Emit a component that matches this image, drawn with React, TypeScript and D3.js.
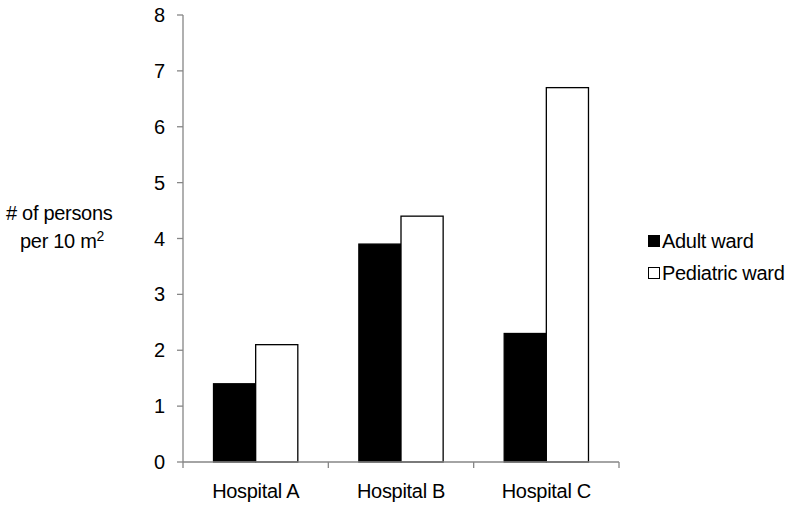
import React from "react";
import * as d3 from "d3";

const categories = ["Hospital A", "Hospital B", "Hospital C"];
const seriesNames = ["Adult ward", "Pediatric ward"];
const adultValues = [1.4, 3.9, 2.3];
const pediatricValues = [2.1, 4.4, 6.7];
const yTicks = [0, 1, 2, 3, 4, 5, 6, 7, 8];

export default function App() {
  const W = 798, H = 509;
  const x0 = 183, x1 = 619, yTop = 15, yBot = 462;
  const x = d3.scaleBand<string>().domain(categories).range([x0, x1]).paddingInner(0).paddingOuter(0);
  const y = d3.scaleLinear().domain([0, 8]).range([yBot, yTop]);
  const barW = x.bandwidth() * 0.29;
  const fills = ["#000000", "#ffffff"];
  const series = [adultValues, pediatricValues];
  const font = "'Liberation Sans', Arial, sans-serif";
  const axisColor = "#868686";
  return (
    <svg width={W} height={H} style={{ position: "absolute", left: 0, top: 0, background: "#fff" }}>
      {categories.map((c, i) => {
        const cx = (x(c) as number) + x.bandwidth() / 2;
        return series.map((vals, s) => (
          <rect
            key={c + s}
            x={cx - barW + s * barW}
            y={y(vals[i])}
            width={barW}
            height={y(0) - y(vals[i])}
            fill={fills[s]}
            stroke="#000"
            strokeWidth={1.3}
          />
        ));
      })}
      <line x1={x0} x2={x0} y1={yTop} y2={yBot} stroke={axisColor} strokeWidth={1.3} />
      <line x1={x0} x2={x1} y1={yBot} y2={yBot} stroke={axisColor} strokeWidth={1.3} />
      {yTicks.map((t) => (
        <g key={t}>
          <line x1={x0 - 6} x2={x0} y1={y(t)} y2={y(t)} stroke={axisColor} strokeWidth={1.3} />
          <text x={165} y={y(t)} dy="0.35em" textAnchor="end" fontFamily={font} fontSize={20} fill="#000">
            {t}
          </text>
        </g>
      ))}
      {[...categories.map((c) => x(c) as number), x1].map((px, i) => (
        <line key={i} x1={px} x2={px} y1={yBot} y2={yBot + 6} stroke={axisColor} strokeWidth={1.3} />
      ))}
      {categories.map((c) => (
        <text
          key={c}
          x={(x(c) as number) + x.bandwidth() / 2}
          y={498}
          textAnchor="middle"
          fontFamily={font}
          fontSize={20}
          letterSpacing={-0.3}
          fill="#000"
        >
          {c}
        </text>
      ))}
      <text x={6} y={220} fontFamily={font} fontSize={20} letterSpacing={-0.3} fill="#000">
        # of persons
      </text>
      <text x={20} y={248} fontFamily={font} fontSize={20} letterSpacing={-0.3} fill="#000">
        per 10 m<tspan dy={-7} fontSize={14}>2</tspan>
      </text>
      {seriesNames.map((n, i) => (
        <g key={n}>
          <rect x={648.5} y={235.5 + i * 32} width={11} height={11} fill={fills[i]} stroke="#000" strokeWidth={1} />
          <text x={662} y={241 + i * 32} dy="0.35em" fontFamily={font} fontSize={20} letterSpacing={-0.3} fill="#000">
            {n}
          </text>
        </g>
      ))}
    </svg>
  );
}
